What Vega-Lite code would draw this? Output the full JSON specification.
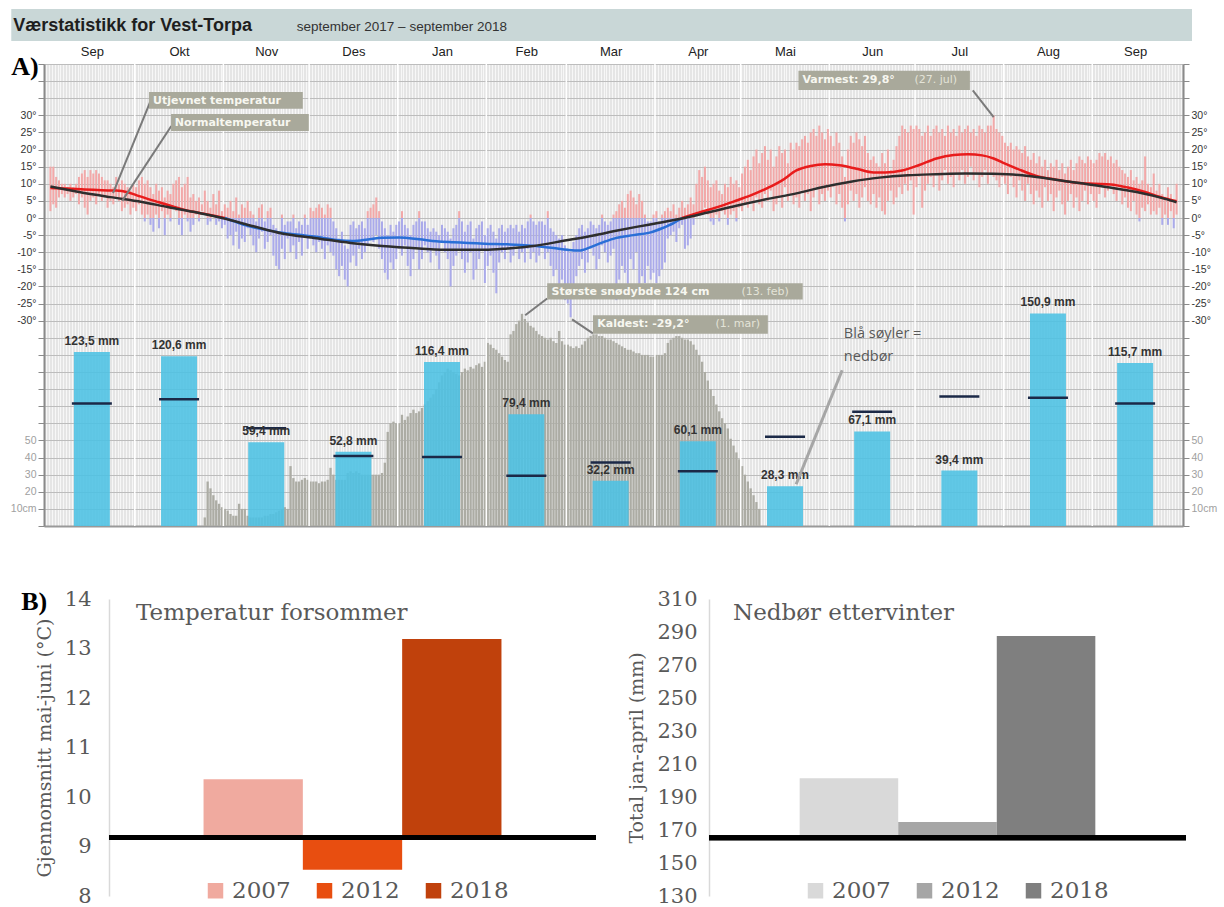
{
"$schema":"https://vega.github.io/schema/vega-lite/v6.json",
"padding":{"left":10,"top":8,"right":5,"bottom":5},
"background":"white",
"config":{"view":{"stroke":null},"font":"Liberation Sans","axis":{"labelOverlap":false,"labelSeparation":0},"locale":{"number":{"decimal":",","thousands":" ","grouping":[3],"currency":[""," mm"]}}},
"datasets":{
"temp":[{"d":0,"l":2,"h":15},{"d":1,"l":4,"h":15},{"d":2,"l":3,"h":12},{"d":3,"l":6,"h":11},{"d":4,"l":7,"h":10},{"d":5,"l":6,"h":10},{"d":6,"l":7,"h":9},{"d":7,"l":5,"h":10},{"d":8,"l":6,"h":9},{"d":9,"l":7,"h":10},{"d":10,"l":4,"h":12},{"d":11,"l":6,"h":13},{"d":12,"l":3,"h":14},{"d":13,"l":1,"h":12},{"d":14,"l":5,"h":14},{"d":15,"l":6,"h":13},{"d":16,"l":4,"h":14},{"d":17,"l":7,"h":13},{"d":18,"l":5,"h":12},{"d":19,"l":6,"h":11},{"d":20,"l":3,"h":11},{"d":21,"l":5,"h":10},{"d":22,"l":4,"h":9},{"d":23,"l":6,"h":12},{"d":24,"l":5,"h":10},{"d":25,"l":2,"h":11},{"d":26,"l":3,"h":10},{"d":27,"l":4,"h":9},{"d":28,"l":1,"h":8},{"d":29,"l":3,"h":10},
{"d":30,"l":2,"h":9},{"d":31,"l":4,"h":11},{"d":32,"l":1,"h":12},{"d":33,"l":0,"h":10},{"d":33,"l":-1,"h":0},{"d":34,"l":1,"h":11},{"d":35,"l":0,"h":9},{"d":35,"l":-2,"h":0},{"d":36,"l":0,"h":7},{"d":36,"l":-4,"h":0},{"d":37,"l":1,"h":10},{"d":38,"l":0,"h":8},{"d":38,"l":-3,"h":0},{"d":39,"l":2,"h":9},{"d":40,"l":0,"h":6},{"d":40,"l":-5,"h":0},{"d":41,"l":1,"h":8},{"d":42,"l":0,"h":7},{"d":42,"l":-1,"h":0},{"d":43,"l":3,"h":10},{"d":44,"l":2,"h":11},{"d":45,"l":0,"h":12},{"d":45,"l":-2,"h":0},{"d":46,"l":0,"h":9},{"d":46,"l":-5,"h":0},{"d":47,"l":1,"h":10},{"d":48,"l":0,"h":12},{"d":48,"l":-1,"h":0},{"d":49,"l":0,"h":6},{"d":49,"l":-4,"h":0},{"d":50,"l":0,"h":7},{"d":50,"l":-2,"h":0},{"d":51,"l":1,"h":5},{"d":52,"l":0,"h":6},{"d":52,"l":-1,"h":0},{"d":53,"l":2,"h":4},{"d":54,"l":1,"h":8},{"d":55,"l":0,"h":5},{"d":55,"l":-2,"h":0},{"d":56,"l":0,"h":3},{"d":56,"l":-1,"h":0},{"d":57,"l":1,"h":7},{"d":58,"l":0,"h":4},{"d":58,"l":-2,"h":0},{"d":59,"l":0,"h":8},{"d":59,"l":-1,"h":0},{"d":60,"l":0,"h":2},{"d":60,"l":-3,"h":0},
{"d":61,"l":0,"h":4},{"d":61,"l":-2,"h":0},{"d":62,"l":0,"h":3},{"d":62,"l":-6,"h":0},{"d":63,"l":0,"h":5},{"d":63,"l":-5,"h":0},{"d":64,"l":0,"h":2},{"d":64,"l":-8,"h":0},{"d":65,"l":0,"h":6},{"d":65,"l":-4,"h":0},{"d":66,"l":0,"h":1},{"d":66,"l":-9,"h":0},{"d":67,"l":0,"h":4},{"d":67,"l":-6,"h":0},{"d":68,"l":0,"h":3},{"d":68,"l":-7,"h":0},{"d":69,"l":0,"h":5},{"d":69,"l":-3,"h":0},{"d":70,"l":0,"h":2},{"d":70,"l":-5,"h":0},{"d":71,"l":0,"h":1},{"d":71,"l":-8,"h":0},{"d":72,"l":-10,"h":-1},{"d":73,"l":0,"h":3},{"d":73,"l":-6,"h":0},{"d":74,"l":0,"h":4},{"d":74,"l":-4,"h":0},{"d":75,"l":-9,"h":-1},{"d":76,"l":0,"h":2},{"d":76,"l":-7,"h":0},{"d":77,"l":0,"h":3},{"d":77,"l":-5,"h":0},{"d":78,"l":-11,"h":-2},{"d":79,"l":-14,"h":-3},{"d":80,"l":-15,"h":-4},{"d":81,"l":0,"h":1},{"d":81,"l":-9,"h":0},{"d":82,"l":-12,"h":-2},{"d":83,"l":-6,"h":-1},{"d":84,"l":-10,"h":-1},{"d":85,"l":0,"h":1},{"d":85,"l":-8,"h":0},{"d":86,"l":-12,"h":-3},{"d":87,"l":-7,"h":-1},{"d":88,"l":-11,"h":-2},{"d":89,"l":0,"h":1},{"d":89,"l":-5,"h":0},{"d":90,"l":-9,"h":-2},
{"d":91,"l":0,"h":3},{"d":91,"l":-6,"h":0},{"d":92,"l":0,"h":2},{"d":92,"l":-8,"h":0},{"d":93,"l":0,"h":3},{"d":93,"l":-10,"h":0},{"d":94,"l":0,"h":4},{"d":94,"l":-7,"h":0},{"d":95,"l":0,"h":3},{"d":95,"l":-9,"h":0},{"d":96,"l":0,"h":1},{"d":96,"l":-12,"h":0},{"d":97,"l":0,"h":4},{"d":97,"l":-8,"h":0},{"d":98,"l":0,"h":3},{"d":98,"l":-10,"h":0},{"d":99,"l":-11,"h":-1},{"d":100,"l":-15,"h":-3},{"d":101,"l":-17,"h":-6},{"d":102,"l":-14,"h":-4},{"d":103,"l":-18,"h":-8},{"d":104,"l":-20,"h":-9},{"d":105,"l":-13,"h":-2},{"d":106,"l":-11,"h":-1},{"d":107,"l":-14,"h":-3},{"d":108,"l":-9,"h":-2},{"d":109,"l":-12,"h":-1},{"d":110,"l":-10,"h":-3},{"d":111,"l":0,"h":2},{"d":111,"l":-8,"h":0},{"d":112,"l":0,"h":3},{"d":112,"l":-6,"h":0},{"d":113,"l":0,"h":4},{"d":113,"l":-7,"h":0},{"d":114,"l":0,"h":6},{"d":114,"l":-5,"h":0},{"d":115,"l":0,"h":2},{"d":115,"l":-9,"h":0},{"d":116,"l":-12,"h":-1},{"d":117,"l":-16,"h":-3},{"d":118,"l":-18,"h":-5},{"d":119,"l":-13,"h":-2},{"d":120,"l":-15,"h":-4},{"d":121,"l":-12,"h":-2},
{"d":122,"l":-9,"h":-1},{"d":123,"l":0,"h":2},{"d":123,"l":-11,"h":0},{"d":124,"l":-8,"h":-2},{"d":125,"l":-14,"h":-3},{"d":126,"l":-17,"h":-5},{"d":127,"l":-12,"h":-2},{"d":128,"l":-9,"h":-1},{"d":129,"l":0,"h":2},{"d":129,"l":-15,"h":0},{"d":130,"l":-12,"h":-1},{"d":131,"l":-8,"h":-1},{"d":132,"l":-10,"h":-3},{"d":133,"l":-13,"h":-4},{"d":134,"l":-9,"h":-3},{"d":135,"l":-11,"h":-4},{"d":136,"l":-15,"h":-5},{"d":137,"l":-7,"h":-2},{"d":138,"l":-10,"h":-3},{"d":139,"l":-12,"h":-4},{"d":140,"l":-20,"h":-6},{"d":141,"l":-14,"h":-3},{"d":142,"l":-11,"h":-2},{"d":143,"l":0,"h":2},{"d":143,"l":-9,"h":0},{"d":144,"l":-12,"h":-1},{"d":145,"l":-16,"h":-4},{"d":146,"l":-13,"h":-2},{"d":147,"l":-10,"h":-1},{"d":148,"l":-18,"h":-6},{"d":149,"l":-15,"h":-3},{"d":150,"l":-12,"h":-2},{"d":151,"l":-9,"h":-1},{"d":152,"l":-19,"h":-5},
{"d":153,"l":-14,"h":-3},{"d":154,"l":-11,"h":-2},{"d":155,"l":-16,"h":-4},{"d":156,"l":-22,"h":-6},{"d":157,"l":-13,"h":-3},{"d":158,"l":-10,"h":-2},{"d":159,"l":-12,"h":-4},{"d":160,"l":-9,"h":-3},{"d":161,"l":-13,"h":-2},{"d":162,"l":-11,"h":-3},{"d":163,"l":-8,"h":-2},{"d":164,"l":-12,"h":-4},{"d":165,"l":-10,"h":-2},{"d":166,"l":-13,"h":-3},{"d":167,"l":-9,"h":-1},{"d":168,"l":0,"h":1},{"d":168,"l":-12,"h":0},{"d":169,"l":-10,"h":-1},{"d":170,"l":-13,"h":-2},{"d":171,"l":-11,"h":-1},{"d":172,"l":-8,"h":-1},{"d":173,"l":-12,"h":-2},{"d":174,"l":0,"h":2},{"d":174,"l":-10,"h":0},{"d":175,"l":-14,"h":-3},{"d":176,"l":-17,"h":-4},{"d":177,"l":-15,"h":-5},{"d":178,"l":-21,"h":-6},{"d":179,"l":-18,"h":-5},{"d":180,"l":-24,"h":-8},
{"d":181,"l":-25,"h":-9},{"d":182,"l":-29,"h":-10},{"d":183,"l":-22,"h":-7},{"d":184,"l":-17,"h":-5},{"d":185,"l":-14,"h":-3},{"d":186,"l":-12,"h":-2},{"d":187,"l":-16,"h":-4},{"d":188,"l":-13,"h":-3},{"d":189,"l":-9,"h":-1},{"d":190,"l":-11,"h":-2},{"d":191,"l":-15,"h":-3},{"d":192,"l":-12,"h":-2},{"d":193,"l":0,"h":1},{"d":193,"l":-8,"h":0},{"d":194,"l":-10,"h":-1},{"d":195,"l":-13,"h":-2},{"d":196,"l":-11,"h":-1},{"d":197,"l":0,"h":1},{"d":197,"l":-9,"h":0},{"d":198,"l":0,"h":2},{"d":198,"l":-24,"h":0},{"d":199,"l":0,"h":4},{"d":199,"l":-18,"h":0},{"d":200,"l":0,"h":5},{"d":200,"l":-14,"h":0},{"d":201,"l":0,"h":3},{"d":201,"l":-16,"h":0},{"d":202,"l":0,"h":7},{"d":202,"l":-20,"h":0},{"d":203,"l":0,"h":8},{"d":203,"l":-12,"h":0},{"d":204,"l":0,"h":6},{"d":204,"l":-15,"h":0},{"d":205,"l":0,"h":4},{"d":205,"l":-10,"h":0},{"d":206,"l":0,"h":7},{"d":206,"l":-22,"h":0},{"d":207,"l":0,"h":5},{"d":207,"l":-17,"h":0},{"d":208,"l":0,"h":1},{"d":208,"l":-19,"h":0},{"d":209,"l":-14,"h":-1},{"d":210,"l":-18,"h":-1},{"d":211,"l":0,"h":1},{"d":211,"l":-16,"h":0},
{"d":212,"l":0,"h":2},{"d":212,"l":-19,"h":0},{"d":213,"l":-17,"h":-1},{"d":214,"l":0,"h":1},{"d":214,"l":-15,"h":0},{"d":215,"l":0,"h":2},{"d":215,"l":-13,"h":0},{"d":216,"l":0,"h":3},{"d":216,"l":-6,"h":0},{"d":217,"l":0,"h":2},{"d":217,"l":-5,"h":0},{"d":218,"l":0,"h":4},{"d":218,"l":-4,"h":0},{"d":219,"l":0,"h":1},{"d":219,"l":-7,"h":0},{"d":220,"l":0,"h":3},{"d":220,"l":-3,"h":0},{"d":221,"l":0,"h":5},{"d":221,"l":-2,"h":0},{"d":222,"l":0,"h":3},{"d":222,"l":-9,"h":0},{"d":223,"l":0,"h":4},{"d":223,"l":-8,"h":0},{"d":224,"l":0,"h":6},{"d":224,"l":-6,"h":0},{"d":225,"l":0,"h":4},{"d":225,"l":-2,"h":0},{"d":226,"l":1,"h":10},{"d":227,"l":2,"h":14},{"d":228,"l":1,"h":12},{"d":229,"l":3,"h":15},{"d":230,"l":1,"h":11},{"d":231,"l":0,"h":9},{"d":231,"l":-1,"h":0},{"d":232,"l":0,"h":10},{"d":232,"l":-2,"h":0},{"d":233,"l":1,"h":11},{"d":234,"l":0,"h":8},{"d":234,"l":-1,"h":0},{"d":235,"l":2,"h":7},{"d":236,"l":1,"h":10},{"d":237,"l":0,"h":9},{"d":237,"l":-2,"h":0},{"d":238,"l":1,"h":12},{"d":239,"l":2,"h":10},{"d":240,"l":0,"h":11},{"d":240,"l":-1,"h":0},{"d":241,"l":3,"h":9},
{"d":242,"l":2,"h":13},{"d":243,"l":4,"h":15},{"d":244,"l":3,"h":17},{"d":245,"l":5,"h":14},{"d":246,"l":2,"h":18},{"d":247,"l":6,"h":20},{"d":248,"l":4,"h":16},{"d":249,"l":3,"h":19},{"d":250,"l":7,"h":21},{"d":251,"l":5,"h":17},{"d":252,"l":8,"h":20},{"d":253,"l":2,"h":15},{"d":254,"l":4,"h":18},{"d":255,"l":6,"h":21},{"d":256,"l":3,"h":19},{"d":257,"l":9,"h":20},{"d":258,"l":5,"h":16},{"d":259,"l":7,"h":22},{"d":260,"l":4,"h":20},{"d":261,"l":6,"h":22},{"d":262,"l":3,"h":21},{"d":263,"l":8,"h":23},{"d":264,"l":5,"h":24},{"d":265,"l":7,"h":22},{"d":266,"l":2,"h":25},{"d":267,"l":6,"h":26},{"d":268,"l":9,"h":24},{"d":269,"l":4,"h":27},{"d":270,"l":7,"h":25},{"d":271,"l":5,"h":23},{"d":272,"l":8,"h":26},
{"d":273,"l":6,"h":24},{"d":274,"l":9,"h":21},{"d":275,"l":4,"h":25},{"d":276,"l":7,"h":22},{"d":277,"l":3,"h":18},{"d":278,"l":0,"h":12},{"d":278,"l":-1,"h":0},{"d":279,"l":4,"h":20},{"d":280,"l":8,"h":24},{"d":281,"l":5,"h":22},{"d":282,"l":7,"h":25},{"d":283,"l":3,"h":23},{"d":284,"l":6,"h":21},{"d":285,"l":9,"h":24},{"d":286,"l":5,"h":19},{"d":287,"l":4,"h":17},{"d":288,"l":7,"h":18},{"d":289,"l":3,"h":16},{"d":290,"l":6,"h":15},{"d":291,"l":2,"h":19},{"d":292,"l":1,"h":16},{"d":293,"l":5,"h":20},{"d":294,"l":8,"h":14},{"d":295,"l":4,"h":17},{"d":296,"l":6,"h":21},{"d":297,"l":9,"h":24},{"d":298,"l":7,"h":27},{"d":299,"l":10,"h":26},{"d":300,"l":8,"h":25},{"d":301,"l":11,"h":27},{"d":302,"l":1,"h":26},
{"d":303,"l":9,"h":27},{"d":304,"l":12,"h":26},{"d":305,"l":3,"h":24},{"d":306,"l":8,"h":25},{"d":307,"l":10,"h":27},{"d":308,"l":12,"h":24},{"d":309,"l":9,"h":26},{"d":310,"l":13,"h":27},{"d":311,"l":8,"h":25},{"d":312,"l":11,"h":26},{"d":313,"l":14,"h":24},{"d":314,"l":10,"h":27},{"d":315,"l":12,"h":25},{"d":316,"l":9,"h":26},{"d":317,"l":13,"h":24},{"d":318,"l":11,"h":27},{"d":319,"l":14,"h":25},{"d":320,"l":10,"h":26},{"d":321,"l":12,"h":27},{"d":322,"l":15,"h":25},{"d":323,"l":11,"h":26},{"d":324,"l":13,"h":24},{"d":325,"l":9,"h":27},{"d":326,"l":12,"h":26},{"d":327,"l":14,"h":25},{"d":328,"l":10,"h":27},{"d":329,"l":13,"h":27},{"d":330,"l":12,"h":30},{"d":331,"l":11,"h":26},{"d":332,"l":9,"h":25},{"d":333,"l":12,"h":24},
{"d":334,"l":10,"h":22},{"d":335,"l":7,"h":21},{"d":336,"l":12,"h":22},{"d":337,"l":9,"h":20},{"d":338,"l":6,"h":21},{"d":339,"l":11,"h":20},{"d":340,"l":8,"h":19},{"d":341,"l":5,"h":21},{"d":342,"l":10,"h":18},{"d":343,"l":7,"h":17},{"d":344,"l":4,"h":19},{"d":345,"l":8,"h":16},{"d":346,"l":6,"h":18},{"d":347,"l":3,"h":15},{"d":348,"l":9,"h":17},{"d":349,"l":5,"h":14},{"d":350,"l":7,"h":16},{"d":351,"l":2,"h":15},{"d":352,"l":6,"h":17},{"d":353,"l":8,"h":14},{"d":354,"l":4,"h":16},{"d":355,"l":1,"h":13},{"d":356,"l":5,"h":15},{"d":357,"l":7,"h":17},{"d":358,"l":3,"h":14},{"d":359,"l":6,"h":16},{"d":360,"l":2,"h":18},{"d":361,"l":5,"h":17},{"d":362,"l":8,"h":16},{"d":363,"l":4,"h":18},{"d":364,"l":7,"h":17},
{"d":365,"l":5,"h":16},{"d":366,"l":3,"h":17},{"d":367,"l":7,"h":19},{"d":368,"l":9,"h":18},{"d":369,"l":6,"h":19},{"d":370,"l":8,"h":17},{"d":371,"l":10,"h":18},{"d":372,"l":7,"h":16},{"d":373,"l":5,"h":17},{"d":374,"l":9,"h":15},{"d":375,"l":4,"h":14},{"d":376,"l":6,"h":13},{"d":377,"l":3,"h":12},{"d":378,"l":2,"h":14},{"d":379,"l":5,"h":11},{"d":380,"l":1,"h":12},{"d":381,"l":0,"h":10},{"d":381,"l":-1,"h":0},{"d":382,"l":3,"h":11},{"d":383,"l":2,"h":18},{"d":384,"l":4,"h":10},{"d":385,"l":1,"h":9},{"d":386,"l":2,"h":13},{"d":387,"l":1,"h":8},{"d":388,"l":3,"h":10},{"d":389,"l":0,"h":7},{"d":389,"l":-2,"h":0},{"d":390,"l":1,"h":6},{"d":391,"l":0,"h":9},{"d":391,"l":-2,"h":0},{"d":392,"l":2,"h":7},{"d":393,"l":0,"h":5},{"d":393,"l":-3,"h":0},{"d":394,"l":1,"h":10}],
"snow":[{"d":54,"s":5},{"d":55,"s":26},{"d":56,"s":22},{"d":57,"s":18},{"d":58,"s":15},{"d":59,"s":13},{"d":60,"s":11},{"d":61,"s":10},{"d":62,"s":9},{"d":63,"s":7},{"d":64,"s":6},{"d":65,"s":6},{"d":66,"s":13},{"d":67,"s":10},{"d":68,"s":10},{"d":69,"s":6},{"d":70,"s":5},{"d":71,"s":5},{"d":72,"s":5},{"d":73,"s":5},{"d":74,"s":5},{"d":75,"s":6},{"d":76,"s":6},{"d":77,"s":7},{"d":78,"s":7},{"d":79,"s":8},{"d":80,"s":9},{"d":81,"s":10},{"d":82,"s":11},{"d":83,"s":10},{"d":84,"s":35},{"d":85,"s":28},{"d":86,"s":26},{"d":87,"s":26},{"d":88,"s":27},{"d":89,"s":28},{"d":90,"s":27},{"d":91,"s":26},{"d":92,"s":26},{"d":93,"s":26},{"d":94,"s":25},{"d":95,"s":26},{"d":96,"s":26},{"d":97,"s":27},{"d":98,"s":34},{"d":99,"s":30},{"d":100,"s":27},{"d":101,"s":27},{"d":102,"s":27},{"d":103,"s":27},{"d":104,"s":31},{"d":105,"s":32},{"d":106,"s":31},{"d":107,"s":32},{"d":108,"s":31},{"d":109,"s":30},{"d":110,"s":30},{"d":111,"s":30},{"d":112,"s":30},{"d":113,"s":30},{"d":114,"s":30},{"d":115,"s":30},{"d":116,"s":31},{"d":117,"s":37},{"d":118,"s":55},{"d":119,"s":60},{"d":120,"s":61},{"d":121,"s":60},{"d":122,"s":60},{"d":123,"s":65},{"d":124,"s":62},{"d":125,"s":64},{"d":126,"s":66},{"d":127,"s":68},{"d":128,"s":66},{"d":129,"s":67},{"d":130,"s":69},{"d":131,"s":71},{"d":132,"s":73},{"d":133,"s":75},{"d":134,"s":77},{"d":135,"s":80},{"d":136,"s":84},{"d":137,"s":88},{"d":138,"s":90},{"d":139,"s":92},{"d":140,"s":91},{"d":141,"s":90},{"d":142,"s":89},{"d":143,"s":88},{"d":144,"s":90},{"d":145,"s":92},{"d":146,"s":91},{"d":147,"s":93},{"d":148,"s":92},{"d":149,"s":94},{"d":150,"s":95},{"d":151,"s":93},{"d":152,"s":96},{"d":153,"s":107},{"d":154,"s":106},{"d":155,"s":104},{"d":156,"s":103},{"d":157,"s":101},{"d":158,"s":99},{"d":159,"s":97},{"d":160,"s":96},{"d":161,"s":112},{"d":162,"s":114},{"d":163,"s":118},{"d":164,"s":120},{"d":165,"s":124},{"d":166,"s":121},{"d":167,"s":119},{"d":168,"s":117},{"d":169,"s":116},{"d":170,"s":114},{"d":171,"s":112},{"d":172,"s":111},{"d":173,"s":110},{"d":174,"s":109},{"d":175,"s":110},{"d":176,"s":108},{"d":177,"s":107},{"d":178,"s":114},{"d":179,"s":108},{"d":180,"s":106},{"d":181,"s":106},{"d":182,"s":105},{"d":183,"s":104},{"d":184,"s":105},{"d":185,"s":104},{"d":186,"s":106},{"d":187,"s":108},{"d":188,"s":110},{"d":189,"s":111},{"d":190,"s":112},{"d":191,"s":112},{"d":192,"s":111},{"d":193,"s":111},{"d":194,"s":110},{"d":195,"s":109},{"d":196,"s":109},{"d":197,"s":108},{"d":198,"s":107},{"d":199,"s":106},{"d":200,"s":105},{"d":201,"s":104},{"d":202,"s":103},{"d":203,"s":103},{"d":204,"s":102},{"d":205,"s":101},{"d":206,"s":101},{"d":207,"s":100},{"d":208,"s":100},{"d":209,"s":100},{"d":210,"s":99},{"d":211,"s":99},{"d":212,"s":100},{"d":213,"s":100},{"d":214,"s":100},{"d":215,"s":101},{"d":216,"s":107},{"d":217,"s":109},{"d":218,"s":110},{"d":219,"s":111},{"d":220,"s":111},{"d":221,"s":110},{"d":222,"s":109},{"d":223,"s":109},{"d":224,"s":108},{"d":225,"s":106},{"d":226,"s":103},{"d":227,"s":100},{"d":228,"s":96},{"d":229,"s":90},{"d":230,"s":85},{"d":231,"s":80},{"d":232,"s":76},{"d":233,"s":71},{"d":234,"s":67},{"d":235,"s":63},{"d":236,"s":60},{"d":237,"s":57},{"d":238,"s":51},{"d":239,"s":47},{"d":240,"s":43},{"d":241,"s":39},{"d":242,"s":35},{"d":243,"s":30},{"d":244,"s":26},{"d":245,"s":22},{"d":246,"s":18},{"d":247,"s":14},{"d":248,"s":10}],
"smooth":[{"d":0,"u":8.8,"g":"a"},{"d":6,"u":8.6,"g":"a"},{"d":12,"u":8.3,"g":"a"},{"d":18,"u":8.1,"g":"a"},{"d":23,"u":8.0,"g":"a"},{"d":27,"u":7.5,"g":"a"},{"d":30,"u":6.7,"g":"a"},{"d":34,"u":5.6,"g":"a"},{"d":38,"u":4.6,"g":"a"},{"d":42,"u":3.6,"g":"a"},{"d":46,"u":2.6,"g":"a"},{"d":50,"u":1.8,"g":"a"},{"d":54,"u":1.2,"g":"a"},{"d":58,"u":0.5,"g":"a"},{"d":61,"u":0,"g":"a"},
{"d":61,"u":0,"g":"b"},{"d":65,"u":-1.2,"g":"b"},{"d":69,"u":-2.3,"g":"b"},{"d":75,"u":-3.4,"g":"b"},{"d":81,"u":-4.3,"g":"b"},{"d":87,"u":-4.9,"g":"b"},{"d":93,"u":-5.5,"g":"b"},{"d":100,"u":-6.4,"g":"b"},{"d":106,"u":-6.7,"g":"b"},{"d":111,"u":-6.3,"g":"b"},{"d":116,"u":-5.8,"g":"b"},{"d":122,"u":-5.7,"g":"b"},{"d":129,"u":-6.2,"g":"b"},{"d":135,"u":-6.8,"g":"b"},{"d":141,"u":-7.1,"g":"b"},{"d":152,"u":-7.5,"g":"b"},{"d":160,"u":-7.7,"g":"b"},{"d":167,"u":-8.0,"g":"b"},{"d":176,"u":-8.8,"g":"b"},{"d":181,"u":-9.3,"g":"b"},{"d":185,"u":-9.5,"g":"b"},{"d":189,"u":-8.5,"g":"b"},{"d":193,"u":-7.2,"g":"b"},{"d":198,"u":-5.8,"g":"b"},{"d":204,"u":-5.0,"g":"b"},{"d":210,"u":-4.2,"g":"b"},{"d":214,"u":-3.0,"g":"b"},{"d":218,"u":-1.5,"g":"b"},{"d":221,"u":0,"g":"b"},
{"d":221,"u":0,"g":"c"},{"d":227,"u":1.6,"g":"c"},{"d":233,"u":3.1,"g":"c"},{"d":239,"u":4.8,"g":"c"},{"d":245,"u":6.6,"g":"c"},{"d":251,"u":8.8,"g":"c"},{"d":256,"u":11.0,"g":"c"},{"d":261,"u":13.9,"g":"c"},{"d":266,"u":15.2,"g":"c"},{"d":271,"u":15.7,"g":"c"},{"d":276,"u":15.4,"g":"c"},{"d":282,"u":14.4,"g":"c"},{"d":288,"u":13.3,"g":"c"},{"d":292,"u":13.3,"g":"c"},{"d":298,"u":13.9,"g":"c"},{"d":304,"u":15.5,"g":"c"},{"d":310,"u":17.4,"g":"c"},{"d":316,"u":18.4,"g":"c"},{"d":321,"u":18.6,"g":"c"},{"d":326,"u":18.3,"g":"c"},{"d":330,"u":17.4,"g":"c"},{"d":334,"u":15.9,"g":"c"},{"d":340,"u":13.8,"g":"c"},{"d":345,"u":12.3,"g":"c"},{"d":352,"u":11.2,"g":"c"},{"d":359,"u":10.3,"g":"c"},{"d":365,"u":10.0,"g":"c"},{"d":371,"u":9.8,"g":"c"},{"d":377,"u":8.9,"g":"c"},{"d":383,"u":7.6,"g":"c"},{"d":388,"u":6.2,"g":"c"},{"d":394,"u":4.9,"g":"c"}],
"normal":[{"d":0,"n":9.2},{"d":10,"n":7.6},{"d":21,"n":6.1},{"d":32,"n":4.7},{"d":41,"n":3.2},{"d":50,"n":1.8},{"d":60,"n":0},{"d":71,"n":-2.4},{"d":81,"n":-4.5},{"d":93,"n":-5.9},{"d":105,"n":-7.3},{"d":116,"n":-8.2},{"d":129,"n":-8.9},{"d":140,"n":-9.3},{"d":152,"n":-9.3},{"d":160,"n":-8.9},{"d":169,"n":-8.2},{"d":180,"n":-6.6},{"d":190,"n":-5.1},{"d":197,"n":-3.9},{"d":205,"n":-2.6},{"d":213,"n":-1.4},{"d":220,"n":-0.3},{"d":230,"n":1.6},{"d":240,"n":3.6},{"d":250,"n":5.4},{"d":261,"n":7.2},{"d":270,"n":9.0},{"d":280,"n":10.6},{"d":290,"n":11.8},{"d":300,"n":12.5},{"d":310,"n":12.8},{"d":320,"n":13.0},{"d":330,"n":12.9},{"d":340,"n":12.5},{"d":350,"n":11.4},{"d":360,"n":10.2},{"d":370,"n":9.0},{"d":380,"n":7.6},{"d":390,"n":5.6},{"d":394,"n":4.6}],
"precip":[{"m":14.5,"p":123.5,"n":87},{"m":45,"p":120.6,"n":90},{"m":75.5,"p":59.4,"n":69.4},{"m":106,"p":52.8,"n":49.7},{"m":137,"p":116.4,"n":49},{"m":166.5,"p":79.4,"n":35.7},{"m":196,"p":32.2,"n":45},{"m":226.5,"p":60.1,"n":38.8},{"m":257,"p":28.3,"n":63.4},{"m":287.5,"p":67.1,"n":81.2},{"m":318,"p":39.4,"n":92},{"m":349,"p":150.9,"n":91},{"m":379.5,"p":115.7,"n":87}],
"months":[{"b":29.5},{"b":60.5},{"b":90.5},{"b":121.5},{"b":152.5},{"b":180.5},{"b":211.5},{"b":241.5},{"b":272.5},{"b":302.5},{"b":333.5},{"b":364.5}],
"ann":[{"k":"band","x1":-13.7,"x2":399.4,"y1":61.1,"y2":51.7},
{"k":"h1","x1":-13.0,"y1":54.5,"t":"Værstatistikk for Vest-Torpa"},{"k":"h2","x1":86.2,"y1":54.6,"t":"september 2017 – september 2018"},
{"k":"lab","x1":-13.7,"y1":44.1,"t":"A)"},{"k":"lab","x1":-10.2,"y1":-112.2,"t":"B)"},
{"k":"box","x1":34.5,"x2":88.3,"y1":36.8,"y2":31.9},{"k":"box","x1":42.2,"x2":90.4,"y1":30.4,"y2":25.4},{"k":"box","x1":261.7,"x2":321.7,"y1":43.0,"y2":37.4},{"k":"box","x1":173.8,"x2":263.2,"y1":-19.1,"y2":-23.8},{"k":"box","x1":189.8,"x2":251.0,"y1":-28.4,"y2":-33.8},
{"k":"lead","x1":34.9,"y1":33.9,"x2":21.9,"y2":7.3},{"k":"lead","x1":42.3,"y1":26.9,"x2":25.1,"y2":5.0},{"k":"lead","x1":322.7,"y1":37.3,"x2":330.0,"y2":29.5},{"k":"lead","x1":166.1,"y1":-28.4,"x2":173.8,"y2":-23.5},{"k":"lead","x1":182.5,"y1":-29.6,"x2":189.8,"y2":-33.7},
{"k":"lead2","x1":277.0,"y1":-44.5,"x2":260.9,"y2":-77.8},
{"k":"tb","x1":35.9,"y1":34.3,"t":"Utjevnet temperatur"},{"k":"tb","x1":43.5,"y1":27.9,"t":"Normaltemperatur"},{"k":"tb","x1":263.1,"y1":40.2,"t":"Varmest: 29,8°"},{"k":"tb","x1":175.3,"y1":-21.5,"t":"Største snødybde 124 cm"},{"k":"tb","x1":191.3,"y1":-31.1,"t":"Kaldest: -29,2°"},
{"k":"tn","x1":302.3,"y1":40.2,"t":"(27. jul)"},{"k":"tn","x1":241.8,"y1":-21.5,"t":"(13. feb)"},{"k":"tn","x1":232.7,"y1":-31.1,"t":"(1. mar)"},
{"k":"note","x1":277.6,"y1":-34.0,"t":"Blå søyler ="},{"k":"note","x1":277.6,"y1":-40.5,"t":"nedbør"}]
},
"bounds":"flush",
"spacing":73,
"resolve":{"scale":{"color":"independent"},"legend":{"color":"independent"}},
"vconcat":[
  {"width":1139,"height":462,
   "view":{"fill":"#e5e5e5","stroke":null},
   "resolve":{"scale":{"y":"independent","color":"independent"},"axis":{"x":"independent","y":"independent"}},
   "layer":[
    {"data":{"name":"ann"},"transform":[{"filter":"datum.k == 'band'"}],"mark":{"type":"rect","color":"#c9d7d7"},
     "encoding":{"x":{"field":"x1","type":"quantitative","scale":{"domain":[-0.5,394.5],"nice":false,"zero":false},"axis":null},"x2":{"field":"x2"},
      "y":{"field":"y1","type":"quantitative","scale":{"domain":[-90,45],"nice":false,"zero":false},"axis":null},"y2":{"field":"y2"}}},
    {"data":{"name":"ann"},"transform":[{"filter":"datum.k == 'h1'"}],"mark":{"type":"text","font":"Liberation Sans","fontSize":18,"fontWeight":"bold","color":"#1e1e1e","align":"left","baseline":"alphabetic"},
     "encoding":{"x":{"field":"x1","type":"quantitative","scale":{"domain":[-0.5,394.5],"nice":false,"zero":false},"axis":null},
      "y":{"field":"y1","type":"quantitative","scale":{"domain":[-90,45],"nice":false,"zero":false},"axis":null},"text":{"field":"t"}}},
    {"data":{"name":"ann"},"transform":[{"filter":"datum.k == 'h2'"}],"mark":{"type":"text","font":"Liberation Sans","fontSize":13.5,"color":"#333333","align":"left","baseline":"alphabetic"},
     "encoding":{"x":{"field":"x1","type":"quantitative","scale":{"domain":[-0.5,394.5],"nice":false,"zero":false},"axis":null},
      "y":{"field":"y1","type":"quantitative","scale":{"domain":[-90,45],"nice":false,"zero":false},"axis":null},"text":{"field":"t"}}},
    {"data":{"name":"ann"},"transform":[{"filter":"datum.k == 'lab'"}],"mark":{"type":"text","font":"Liberation Serif","fontSize":26,"fontWeight":"bold","color":"#000000","align":"left","baseline":"middle"},
     "encoding":{"x":{"field":"x1","type":"quantitative","scale":{"domain":[-0.5,394.5],"nice":false,"zero":false},"axis":null},
      "y":{"field":"y1","type":"quantitative","scale":{"domain":[-90,45],"nice":false,"zero":false},"axis":null},"text":{"field":"t"}}},
    {"data":{"name":"snow"},"mark":{"type":"bar","size":2.3,"color":"#acaca4"},
     "encoding":{"x":{"field":"d","type":"quantitative","scale":{"domain":[-0.5,394.5],"nice":false,"zero":false},"axis":null},
      "y":{"field":"s","type":"quantitative","scale":{"domain":[0,270],"nice":false},"axis":null}}},
    {"data":{"name":"months"},"mark":{"type":"rule","color":"#ffffff","strokeWidth":1.5},
     "encoding":{"x":{"field":"b","type":"quantitative","scale":{"domain":[-0.5,394.5],"nice":false,"zero":false},"axis":null}}},
    {"data":{"name":"temp"},"mark":{"type":"bar","size":2},
     "encoding":{"x":{"field":"d","type":"quantitative","scale":{"domain":[-0.5,394.5],"nice":false,"zero":false},
       "axis":{"orient":"bottom","tickCount":395,"labels":false,"ticks":false,"grid":true,"gridColor":"#f7f7f7","gridWidth":1,"tickOffset":1.44,"domain":true,"domainColor":"#999999","domainWidth":2,"title":null}},
      "y":{"field":"h","type":"quantitative","scale":{"domain":[-90,45],"nice":false,"zero":false},
       "axis":{"orient":"left","values":[-90,-85,-80,-75,-70,-65,-60,-55,-50,-45,-40,-35,-30,-25,-20,-15,-10,-5,0,5,10,15,20,25,30,35,40,45],
        "labelExpr":"datum.value >= -30 && datum.value <= 30 ? datum.value + '°' : datum.value == -85 ? '10cm' : datum.value == -80 ? '20' : datum.value == -75 ? '30' : datum.value == -70 ? '40' : datum.value == -65 ? '50' : ''",
        "labelColor":{"condition":{"test":"datum.value < -40","value":"#a0a0a0"},"value":"#333333"},
        "grid":true,"gridColor":"#bdbdbd","gridWidth":1,"tickColor":"#8a8a8a","tickSize":6,"domainColor":"#8a8a8a","domainWidth":2,"labelFontSize":10.5,"labelPadding":2,"labelOverlap":false,"title":null}},
      "y2":{"field":"l"},
      "color":{"condition":{"test":"datum.h > 0","value":"#f2a8a8"},"value":"#aaaaea"}}},
    {"data":{"name":"smooth"},"mark":{"type":"line","strokeWidth":2.5,"interpolate":"monotone"},
     "encoding":{"x":{"field":"d","type":"quantitative","scale":{"domain":[-0.5,394.5],"nice":false,"zero":false},"axis":null},
      "y":{"field":"u","type":"quantitative","scale":{"domain":[-90,45],"nice":false,"zero":false},"axis":null},
      "color":{"field":"g","type":"nominal","scale":{"domain":["a","b","c"],"range":["#e81c1c","#2a6fd6","#e81c1c"]},"legend":null}}},
    {"data":{"name":"normal"},"mark":{"type":"line","strokeWidth":2.5,"color":"#2e2e2e","interpolate":"monotone"},
     "encoding":{"x":{"field":"d","type":"quantitative","scale":{"domain":[-0.5,394.5],"nice":false,"zero":false},"axis":null},
      "y":{"field":"n","type":"quantitative","scale":{"domain":[-90,45],"nice":false,"zero":false},
       "axis":{"orient":"right","values":[-90,-85,-80,-75,-70,-65,-60,-55,-50,-45,-40,-35,-30,-25,-20,-15,-10,-5,0,5,10,15,20,25,30,35,40,45],
        "labelExpr":"datum.value >= -30 && datum.value <= 30 ? datum.value + '°' : datum.value == -85 ? '10cm' : datum.value == -80 ? '20' : datum.value == -75 ? '30' : datum.value == -70 ? '40' : datum.value == -65 ? '50' : ''",
        "labelColor":{"condition":{"test":"datum.value < -40","value":"#a0a0a0"},"value":"#333333"},
        "grid":false,"tickColor":"#8a8a8a","tickSize":6,"domainColor":"#8a8a8a","domainWidth":2,"labelFontSize":10.5,"labelPadding":2,"labelOverlap":false,"title":null}}}},
    {"data":{"name":"precip"},"mark":{"type":"bar","size":36,"color":"#4cc2e4","opacity":0.88},
     "encoding":{"x":{"field":"m","type":"quantitative","scale":{"domain":[-0.5,394.5],"nice":false,"zero":false},
       "axis":{"orient":"top","values":[14.5,45,75.5,106,137,166.5,196,226.5,257,287.5,318,349,379.5],
        "labelExpr":"['Sep','Okt','Nov','Des','Jan','Feb','Mar','Apr','Mai','Jun','Jul','Aug','Sep'][round((datum.value-14.5)/30.4)]",
        "ticks":false,"domain":false,"grid":false,"labelFlush":false,"labelOverlap":false,"labelFontSize":13,"labelColor":"#222222","labelPadding":6,"title":null}},
      "y":{"field":"p","type":"quantitative","scale":{"domain":[0,328],"nice":false},"axis":null}}},
    {"data":{"name":"precip"},"mark":{"type":"tick","orient":"horizontal","size":40,"thickness":2.5,"color":"#1b2947","opacity":1},
     "encoding":{"x":{"field":"m","type":"quantitative","scale":{"domain":[-0.5,394.5],"nice":false,"zero":false},"axis":null},
      "y":{"field":"n","type":"quantitative","scale":{"domain":[0,328],"nice":false},"axis":null}}},
    {"data":{"name":"precip"},"mark":{"type":"text","fontWeight":"bold","fontSize":12,"color":"#333333","baseline":"bottom","dy":-4},
     "encoding":{"x":{"field":"m","type":"quantitative","scale":{"domain":[-0.5,394.5],"nice":false,"zero":false},"axis":null},
      "y":{"field":"p","type":"quantitative","scale":{"domain":[0,328],"nice":false},"axis":null},
      "text":{"field":"p","type":"quantitative","format":"$.1f"}}},
    {"data":{"name":"ann"},"transform":[{"filter":"datum.k == 'lead'"}],"mark":{"type":"rule","color":"#7a7a7a","strokeWidth":2},
     "encoding":{"x":{"field":"x1","type":"quantitative","scale":{"domain":[-0.5,394.5],"nice":false,"zero":false},"axis":null},"x2":{"field":"x2"},
      "y":{"field":"y1","type":"quantitative","scale":{"domain":[-90,45],"nice":false,"zero":false},"axis":null},"y2":{"field":"y2"}}},
    {"data":{"name":"ann"},"transform":[{"filter":"datum.k == 'lead2'"}],"mark":{"type":"rule","color":"#a6a6a6","strokeWidth":3},
     "encoding":{"x":{"field":"x1","type":"quantitative","scale":{"domain":[-0.5,394.5],"nice":false,"zero":false},"axis":null},"x2":{"field":"x2"},
      "y":{"field":"y1","type":"quantitative","scale":{"domain":[-90,45],"nice":false,"zero":false},"axis":null},"y2":{"field":"y2"}}},
    {"data":{"name":"ann"},"transform":[{"filter":"datum.k == 'box'"}],"mark":{"type":"rect","color":"#a9a99b"},
     "encoding":{"x":{"field":"x1","type":"quantitative","scale":{"domain":[-0.5,394.5],"nice":false,"zero":false},"axis":null},"x2":{"field":"x2"},
      "y":{"field":"y1","type":"quantitative","scale":{"domain":[-90,45],"nice":false,"zero":false},"axis":null},"y2":{"field":"y2"}}},
    {"data":{"name":"ann"},"transform":[{"filter":"datum.k == 'tb'"}],"mark":{"type":"text","font":"DejaVu Sans","fontSize":11,"fontWeight":"bold","color":"#f7f7f0","align":"left","baseline":"middle"},
     "encoding":{"x":{"field":"x1","type":"quantitative","scale":{"domain":[-0.5,394.5],"nice":false,"zero":false},"axis":null},
      "y":{"field":"y1","type":"quantitative","scale":{"domain":[-90,45],"nice":false,"zero":false},"axis":null},"text":{"field":"t"}}},
    {"data":{"name":"ann"},"transform":[{"filter":"datum.k == 'tn'"}],"mark":{"type":"text","font":"DejaVu Sans","fontSize":11,"fontWeight":"normal","color":"#e4e4d8","align":"left","baseline":"middle"},
     "encoding":{"x":{"field":"x1","type":"quantitative","scale":{"domain":[-0.5,394.5],"nice":false,"zero":false},"axis":null},
      "y":{"field":"y1","type":"quantitative","scale":{"domain":[-90,45],"nice":false,"zero":false},"axis":null},"text":{"field":"t"}}},
    {"data":{"name":"ann"},"transform":[{"filter":"datum.k == 'note'"}],"mark":{"type":"text","font":"Open Sans","fontSize":14.5,"color":"#595959","align":"left","baseline":"middle"},
     "encoding":{"x":{"field":"x1","type":"quantitative","scale":{"domain":[-0.5,394.5],"nice":false,"zero":false},"axis":null},
      "y":{"field":"y1","type":"quantitative","scale":{"domain":[-90,45],"nice":false,"zero":false},"axis":null},"text":{"field":"t"}}}
   ]},
  {"bounds":"flush","spacing":0,
   "resolve":{"scale":{"color":"independent"},"legend":{"color":"independent"}},
   "hconcat":[
  {"width":65,"height":297,"data":{"values":[{}]},"mark":{"type":"text","text":""}},
  {"width":487,"height":297,
   "data":{"values":[{"yr":"2007","v":10.36,"b":9.18},{"yr":"2012","v":8.53,"b":9.18},{"yr":"2018","v":13.19,"b":9.18}]},
   "title":{"text":"Temperatur forsommer","anchor":"start","frame":"group","offset":-55,"dx":27,"baseline":"alphabetic","font":"DejaVu Serif","fontSize":23,"fontWeight":"normal","color":"#595959"},
   "layer":[
    {"mark":{"type":"bar"},
     "encoding":{"x":{"field":"yr","type":"nominal","scale":{"paddingInner":0,"paddingOuter":0.952},"axis":null},
      "y":{"field":"v","type":"quantitative","title":"Gjennomsnitt mai-juni (°C)","scale":{"domain":[8,14],"nice":false,"zero":false},
       "axis":{"values":[8,9,10,11,12,13,14],"grid":false,"ticks":false,"labelOverlap":false,"labelSeparation":0,"domainColor":"#d9d9d9","domainWidth":1.5,"labelFont":"DejaVu Serif","labelFontSize":21,"labelColor":"#595959","labelPadding":18,"titleFont":"DejaVu Serif","titleFontSize":19,"titleFontWeight":"normal","titleColor":"#595959","titlePadding":10}},
      "y2":{"field":"b"},
      "color":{"field":"yr","type":"nominal","scale":{"domain":["2007","2012","2018"],"range":["#f0aa9f","#e84e10","#c0410c"]},
       "legend":{"orient":"none","legendX":95,"legendY":280,"direction":"horizontal","title":null,"symbolType":"square","symbolSize":240,"symbolStrokeWidth":0,"labelFont":"DejaVu Serif","labelFontSize":23,"labelColor":"#595959","columnPadding":22,"labelOffset":5}}}},
    {"mark":{"type":"rule","color":"#000000","strokeWidth":5},
     "encoding":{"y":{"field":"b","type":"quantitative","title":"Gjennomsnitt mai-juni (°C)",
       "axis":{"values":[8,9,10,11,12,13,14],"grid":false,"ticks":false,"labelOverlap":false,"labelSeparation":0,"domainColor":"#d9d9d9","domainWidth":1.5,"labelFont":"DejaVu Serif","labelFontSize":21,"labelColor":"#595959","labelPadding":18,"titleFont":"DejaVu Serif","titleFontSize":19,"titleFontWeight":"normal","titleColor":"#595959","titlePadding":10}}}}
   ]},
  {"width":113,"height":297,"data":{"values":[{}]},"mark":{"type":"text","text":""}},
  {"width":477,"height":297,
   "data":{"values":[{"yr":"2007","v":201.3,"b":165.3},{"yr":"2012","v":174.8,"b":165.3},{"yr":"2018","v":287.6,"b":165.3}]},
   "title":{"text":"Nedbør ettervinter","anchor":"start","frame":"group","offset":-55,"dx":24,"baseline":"alphabetic","font":"DejaVu Serif","fontSize":23,"fontWeight":"normal","color":"#595959"},
   "layer":[
    {"mark":{"type":"bar"},
     "encoding":{"x":{"field":"yr","type":"nominal","scale":{"paddingInner":0,"paddingOuter":0.92},"axis":null},
      "y":{"field":"v","type":"quantitative","title":"Total jan-april (mm)","scale":{"domain":[130,310],"nice":false,"zero":false},
       "axis":{"values":[130,150,170,190,210,230,250,270,290,310],"grid":false,"ticks":false,"labelOverlap":false,"labelSeparation":0,"domainColor":"#d9d9d9","domainWidth":1.5,"labelFont":"DejaVu Serif","labelFontSize":21,"labelColor":"#595959","labelPadding":12,"titleFont":"DejaVu Serif","titleFontSize":19,"titleFontWeight":"normal","titleColor":"#595959","titlePadding":10}},
      "y2":{"field":"b"},
      "color":{"field":"yr","type":"nominal","scale":{"domain":["2007","2012","2018"],"range":["#d9d9d9","#a6a6a6","#7f7f7f"]},
       "legend":{"orient":"none","legendX":95,"legendY":280,"direction":"horizontal","title":null,"symbolType":"square","symbolSize":240,"symbolStrokeWidth":0,"labelFont":"DejaVu Serif","labelFontSize":23,"labelColor":"#595959","columnPadding":22,"labelOffset":5}}}},
    {"mark":{"type":"rule","color":"#000000","strokeWidth":5},
     "encoding":{"y":{"field":"b","type":"quantitative","title":"Total jan-april (mm)",
       "axis":{"values":[130,150,170,190,210,230,250,270,290,310],"grid":false,"ticks":false,"labelOverlap":false,"labelSeparation":0,"domainColor":"#d9d9d9","domainWidth":1.5,"labelFont":"DejaVu Serif","labelFontSize":21,"labelColor":"#595959","labelPadding":12,"titleFont":"DejaVu Serif","titleFontSize":19,"titleFontWeight":"normal","titleColor":"#595959","titlePadding":10}}}}
   ]}
  ]}
]
}
